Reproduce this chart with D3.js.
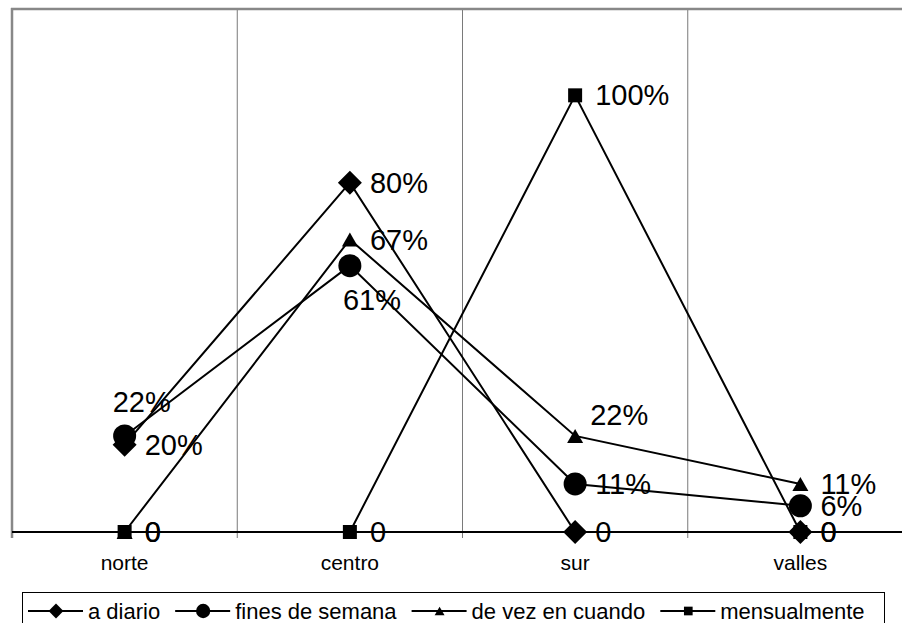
<!DOCTYPE html>
<html>
<head>
<meta charset="utf-8">
<script src="https://cdn.jsdelivr.net/npm/d3@7"></script>
<style>
  body { margin: 0; background: #fff; }
  svg { display: block; font-family: "Liberation Sans", Arial, sans-serif; }
</style>
</head>
<body>
<svg id="chart" width="902" height="623"></svg>
<script>
// data
const categories = ["norte", "centro", "sur", "valles"];
const seriesNames = ["a diario", "fines de semana", "de vez en cuando", "mensualmente"];
const aDiario = [0.20, 0.80, 0, 0];
const finesDeSemana = [0.22, 0.61, 0.11, 0.06];
const deVezEnCuando = [0, 0.67, 0.22, 0.11];
const mensualmente = [0, 0, 1.00, 0];
const yDomain = [0, 1.2];

const seriesValues = [aDiario, finesDeSemana, deVezEnCuando, mensualmente];
const markerTypes = ["diamond", "circle", "triangle", "square"];

// labels that were dragged away from the default right-hand spot
const labelNudge = {
    1: { 0: [-12, -34], 1: [-7, 34] },
    2: { 2: [15, -21] }
};

const svg = d3.select("#chart");
const plotLeft = 12, plotRight = 913, plotTop = 8, plotBottom = 532;

const x = d3.scaleBand().domain(categories).range([plotLeft, plotRight]).padding(0);
const y = d3.scaleLinear().domain(yDomain).range([plotBottom, plotTop]);

const markerPath = {
    diamond: "M0,-12L12,0L0,12L-12,0Z",
    triangle: "M0,-7L8,7L-8,7Z",
    square: "M-7,-7H7V7H-7Z"
};

function drawMarker(g, type) {
    if (type === "circle") {
        g.append("circle").attr("r", 11.5).attr("fill", "#000");
    } else {
        g.append("path").attr("d", markerPath[type]).attr("fill", "#000");
    }
}

const fmt = v => v === 0 ? "0" : Math.round(v * 100) + "%";

// vertical gridlines between categories, extending down as tick marks
const bounds = categories.slice(1).map(c => x(c));
svg.append("g").selectAll("line")
    .data(bounds)
    .enter()
    .append("line")
    .attr("x1", d => d).attr("x2", d => d)
    .attr("y1", plotTop).attr("y2", plotBottom + 6)
    .attr("stroke", "#7a7a7a")
    .attr("stroke-width", 1);

// plot area border (top and left visible)
svg.append("line")
    .attr("x1", plotLeft - 1).attr("x2", plotRight)
    .attr("y1", plotTop + 1).attr("y2", plotTop + 1)
    .attr("stroke", "#888").attr("stroke-width", 2.5);
svg.append("line")
    .attr("x1", plotLeft).attr("x2", plotLeft)
    .attr("y1", plotTop).attr("y2", plotBottom + 6)
    .attr("stroke", "#888").attr("stroke-width", 2.5);

// category axis
svg.append("line")
    .attr("x1", plotLeft).attr("x2", plotRight)
    .attr("y1", plotBottom).attr("y2", plotBottom)
    .attr("stroke", "#000").attr("stroke-width", 2);

svg.append("g").selectAll("text")
    .data(categories)
    .enter()
    .append("text")
    .attr("x", d => x(d) + x.bandwidth() / 2)
    .attr("y", 563)
    .attr("dy", "0.35em")
    .attr("text-anchor", "middle")
    .attr("font-size", 21)
    .attr("fill", "#000")
    .text(d => d);

// series lines
const line = d3.line()
    .x((d, i) => x(categories[i]) + x.bandwidth() / 2)
    .y(d => y(d));

const seriesG = svg.append("g");
seriesValues.forEach((vals, s) => {
    seriesG.append("path")
        .datum(vals)
        .attr("d", line)
        .attr("fill", "none")
        .attr("stroke", "#000")
        .attr("stroke-width", 2);
});

// markers
seriesValues.forEach((vals, s) => {
    vals.forEach((v, i) => {
        const g = seriesG.append("g")
            .attr("transform", `translate(${x(categories[i]) + x.bandwidth() / 2},${y(v)})`);
        drawMarker(g, markerTypes[s]);
    });
});

// data labels
seriesValues.forEach((vals, s) => {
    vals.forEach((v, i) => {
        const nudge = (labelNudge[s] && labelNudge[s][i]) || [20, 0];
        svg.append("text")
            .attr("x", x(categories[i]) + x.bandwidth() / 2 + nudge[0])
            .attr("y", y(v) + nudge[1])
            .attr("dy", "0.35em")
            .attr("font-size", 29)
            .attr("fill", "#000")
            .text(fmt(v));
    });
});

// legend
const legend = svg.append("g");
legend.append("rect")
    .attr("x", 22.5).attr("y", 592.5)
    .attr("width", 862).attr("height", 40)
    .attr("fill", "#fff")
    .attr("stroke", "#000").attr("stroke-width", 1);

let lx = 28;
const ly = 611;
seriesNames.forEach((name, s) => {
    const item = legend.append("g").attr("transform", `translate(${lx},${ly})`);
    item.append("line")
        .attr("x1", 0).attr("x2", 55)
        .attr("y1", 0).attr("y2", 0)
        .attr("stroke", "#000").attr("stroke-width", 2);
    const m = item.append("g").attr("transform", "translate(28,0) scale(0.62)");
    drawMarker(m, markerTypes[s]);
    const t = item.append("text")
        .attr("x", 60)
        .attr("dy", "0.35em")
        .attr("font-size", 22)
        .attr("fill", "#000")
        .text(name);
    lx += 60 + t.node().getComputedTextLength() + 15;
});
</script>
</body>
</html>
